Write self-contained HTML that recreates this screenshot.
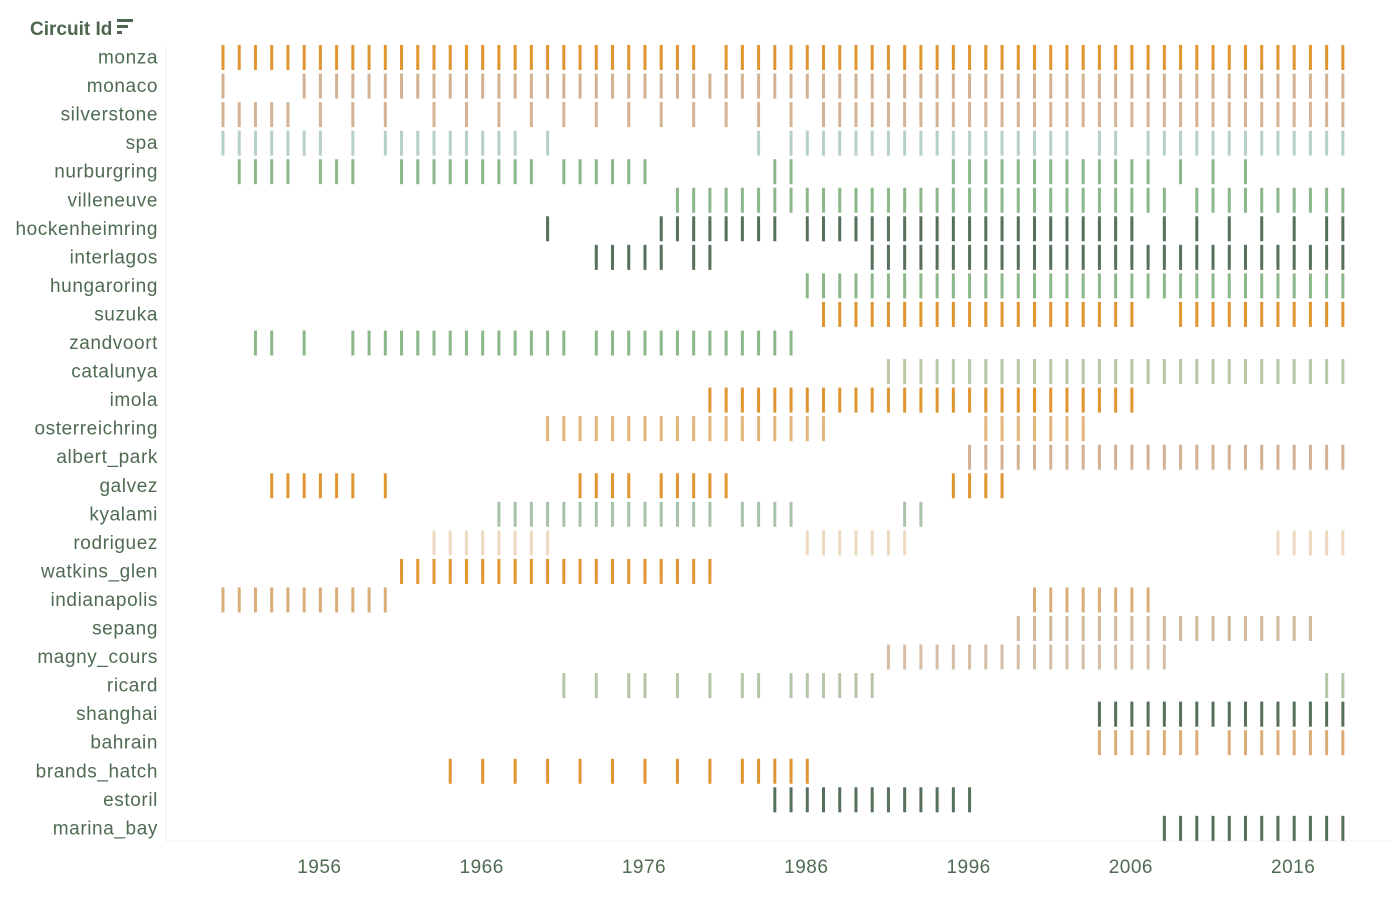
<!DOCTYPE html>
<html><head><meta charset="utf-8"><style>
html,body{margin:0;padding:0;background:#fff;}
body{width:1400px;height:892px;overflow:hidden;font-family:"Liberation Sans",sans-serif;}
svg text{font-family:"Liberation Sans",sans-serif;}
</style></head><body>
<svg id="chart" width="1400" height="892" xmlns="http://www.w3.org/2000/svg">
<text x="30" y="35" font-size="19" font-weight="bold" fill="#4e6650">Circuit Id</text>
<g fill="#4e6650">
<rect x="117" y="19" width="16" height="3"/><rect x="117" y="25" width="11" height="3"/><rect x="117" y="31" width="5" height="3"/>
</g>
<line x1="166" y1="841" x2="1392" y2="841" stroke="#f0efe4" stroke-width="1"/>
<line x1="166" y1="45" x2="166" y2="841" stroke="#f3f2ea" stroke-width="1"/>
<g id="labels"></g><g id="marks"></g><g id="ticks"></g>
</svg>
<script>
const circuits=["monza","monaco","silverstone","spa","nurburgring","villeneuve","hockenheimring","interlagos","hungaroring","suzuka","zandvoort","catalunya","imola","osterreichring","albert_park","galvez","kyalami","rodriguez","watkins_glen","indianapolis","sepang","magny_cours","ricard","shanghai","bahrain","brands_hatch","estoril","marina_bay"];
const rowColors=["#df9630","#d3b293","#d4b394","#b6cfcb","#8cb889","#8cb889","#56705c","#56705c","#8cb889","#df9630","#8cb889","#b9c7a4","#df9630","#e2b47a","#d3b293","#df9630","#a9c3a8","#ecd9bf","#df9630","#d9ad78","#d3b89e","#d6bea6","#b6c4a8","#56705c","#dcab77","#df9630","#56705c","#56705c"];
const tickYears=[1956,1966,1976,1986,1996,2006,2016];
const years=[
"1950-1979,1981-2019",
"1950,1955-2019",
"1950-1954,1956,1958,1960,1963,1965,1967,1969,1971,1973,1975,1977,1979,1981,1983,1985,1987-2019",
"1950-1956,1958,1960-1968,1970,1983,1985-2002,2004,2005,2007-2019",
"1951-1954,1956-1958,1961-1969,1971-1976,1984,1985,1995-2007,2009,2011,2013",
"1978-2008,2010-2019",
"1970,1977-1984,1986-2006,2008,2010,2012,2014,2016,2018,2019",
"1973-1977,1979,1980,1990-2019",
"1986-2019",
"1987-2006,2009-2019",
"1952,1953,1955,1958-1971,1973-1985",
"1991-2019",
"1980-2006",
"1970-1987,1997-2003",
"1996-2019",
"1953-1958,1960,1972-1975,1977-1981,1995-1998",
"1967-1980,1982-1985,1992,1993",
"1963-1970,1986-1992,2015-2019",
"1961-1980",
"1950-1960,2000-2007",
"1999-2017",
"1991-2008",
"1971,1973,1975,1976,1978,1980,1982,1983,1985-1990,2018,2019",
"2004-2019",
"2004-2010,2012-2019",
"1964,1966,1968,1970,1972,1974,1976,1978,1980,1982-1986",
"1984-1996",
"2008-2019"];
const NS='http://www.w3.org/2000/svg';
function xScale(y){return 223+(y-1950)*16.23;}
function yScale(i){return 57.5+i*28.55;}
function parse(s){const out=[];s.split(',').forEach(p=>{const r=p.split('-').map(Number);if(r.length===1)out.push(r[0]);else for(let k=r[0];k<=r[1];k++)out.push(k);});return out;}
const lg=document.getElementById('labels'),mg=document.getElementById('marks'),tg=document.getElementById('ticks');
circuits.forEach((c,i)=>{
  const t=document.createElementNS(NS,'text');
  
  
  t.setAttribute('x',158);t.setAttribute('y',yScale(i)+6);t.setAttribute('text-anchor','end');
  t.setAttribute('font-size','19');t.setAttribute('letter-spacing','0.6');t.setAttribute('fill','#4f6b52');t.textContent=c;lg.appendChild(t);
  parse(years[i]).forEach(yr=>{
    const r=document.createElementNS(NS,'rect');
    
    
    r.setAttribute('x',xScale(yr)-1.5);r.setAttribute('y',yScale(i)-12.5);
    r.setAttribute('width',3);r.setAttribute('height',25);r.setAttribute('fill',rowColors[i]);
    mg.appendChild(r);
  });
});
tickYears.forEach(y=>{
  const t=document.createElementNS(NS,'text');
  
  
  t.setAttribute('x',xScale(y)-1);t.setAttribute('y',873);t.setAttribute('text-anchor','middle');
  t.setAttribute('font-size','19');t.setAttribute('letter-spacing','0.5');t.setAttribute('fill','#4f6b52');t.textContent=y;tg.appendChild(t);
});
</script>
</body></html>
